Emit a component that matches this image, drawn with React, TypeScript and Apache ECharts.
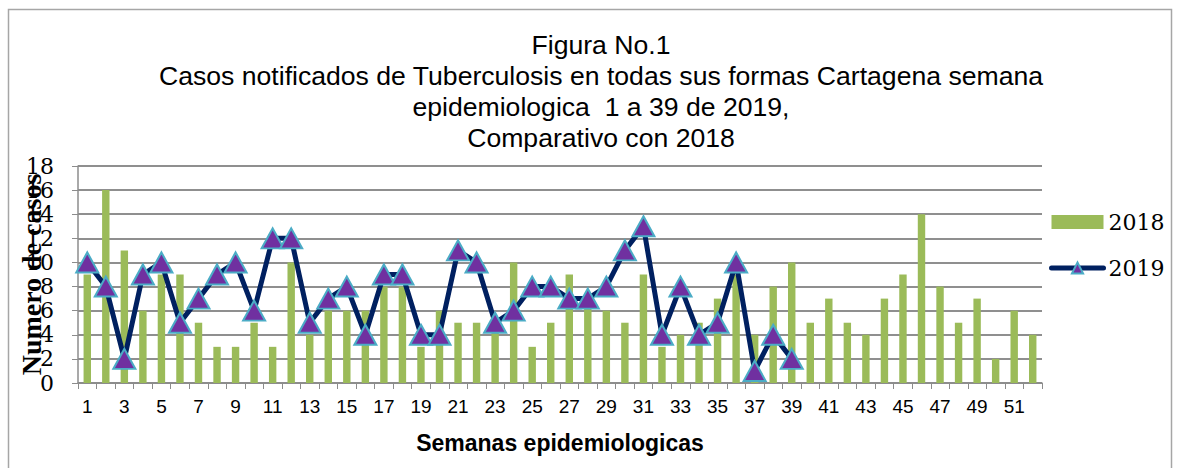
import React, { useEffect, useRef } from "react";
import * as echarts from "echarts";

const weeks: string[] = Array.from({ length: 52 }, (_, i) => String(i + 1));
const cases2018: number[] = [9, 16, 11, 6, 9, 9, 5, 3, 3, 5, 3, 10, 4, 6, 6, 6, 8, 8, 3, 6, 5, 5, 5, 10, 3, 5, 9, 7, 6, 5, 9, 3, 4, 5, 7, 9, 4, 8, 10, 5, 7, 5, 4, 7, 9, 14, 8, 5, 7, 2, 6, 4];
const cases2019: number[] = [10, 8, 2, 9, 10, 5, 7, 9, 10, 6, 12, 12, 5, 7, 8, 4, 9, 9, 4, 4, 11, 10, 5, 6, 8, 8, 7, 7, 8, 11, 13, 4, 8, 4, 5, 10, 1, 4, 2];
const titleLines: string[] = [
  "Figura No.1",
  "Casos notificados de Tuberculosis en todas sus formas Cartagena semana",
  "epidemiologica  1 a 39 de 2019,",
  "Comparativo con 2018",
];

export default function App() {
  const ref = useRef<HTMLDivElement>(null);
  useEffect(() => {
    document.body.style.margin = "0";
    if (!ref.current) return;
    const chart = echarts.init(ref.current, null, { renderer: "svg" });
    const serif = "DejaVu Serif";
    const sans = "Liberation Sans";
    chart.setOption({
      animation: false,
      backgroundColor: "#ffffff",
      graphic: [
        {
          type: "rect",
          shape: { x: 8.5, y: 9.5, width: 1163, height: 470 },
          style: { fill: "none", stroke: "#a6a6a6", lineWidth: 1.5 },
          z: -1,
        },
        {
          type: "text",
          x: 601,
          y: 29,
          style: {
            text: titleLines.join("\n"),
            font: `26.6px "${sans}"`,
            fill: "#000",
            textAlign: "center",
            textVerticalAlign: "top",
            lineHeight: 31,
          },
        },
      ],
      legend: {
        orient: "vertical",
        left: 1044,
        top: 206,
        itemWidth: 52,
        itemHeight: 14,
        itemGap: 24,
        textStyle: { fontFamily: serif, fontSize: 22, color: "#000" },
        data: [
          { name: "2018", icon: "rect" },
          { name: "2019", lineStyle: { width: 5, cap: "round" } },
        ],
      },
      grid: { left: 78, top: 166, right: 135, bottom: 85, containLabel: false, outerBoundsMode: "none" },
      xAxis: {
        type: "category",
        data: weeks,
        name: "Semanas epidemiologicas",
        nameLocation: "middle",
        nameGap: 48,
        nameTextStyle: { fontFamily: sans, fontSize: 23, fontWeight: "bold", color: "#000" },
        axisLine: { lineStyle: { color: "#8c8c8c", width: 1.5 } },
        axisTick: { show: true, interval: 0, length: 6, lineStyle: { color: "#8c8c8c" } },
        axisLabel: { interval: 1, fontFamily: sans, fontSize: 19, color: "#000", margin: 14 },
      },
      yAxis: {
        type: "value",
        min: 0,
        max: 18,
        interval: 2,
        name: "Numero de casos",
        nameLocation: "middle",
        nameGap: 33,
        nameMoveOverlap: false,
        nameTextStyle: { fontFamily: "Liberation Serif", fontSize: 28, fontWeight: "bold", color: "#000" },
        axisLine: { show: true, lineStyle: { color: "#8c8c8c", width: 1.5 } },
        axisTick: { show: true, length: 6, lineStyle: { color: "#8c8c8c" } },
        axisLabel: { fontFamily: serif, fontSize: 22, color: "#000", margin: 24 },
        splitLine: { lineStyle: { color: "#8f8f8f", width: 2 } },
      },
      series: [
        {
          name: "2018",
          type: "bar",
          data: cases2018,
          barWidth: "40%",
          itemStyle: { color: "#9bbb59" },
        },
        {
          name: "2019",
          type: "line",
          data: cases2019,
          symbol: "triangle",
          symbolSize: [22, 20],
          showAllSymbol: true,
          lineStyle: { color: "#002060", width: 5 },
          itemStyle: { color: "#7030a0", borderColor: "#4bacc6", borderWidth: 2 },
          z: 3,
        },
      ],
    });
    return () => chart.dispose();
  }, []);
  return <div ref={ref} style={{ width: 1177, height: 468 }} />;
}
